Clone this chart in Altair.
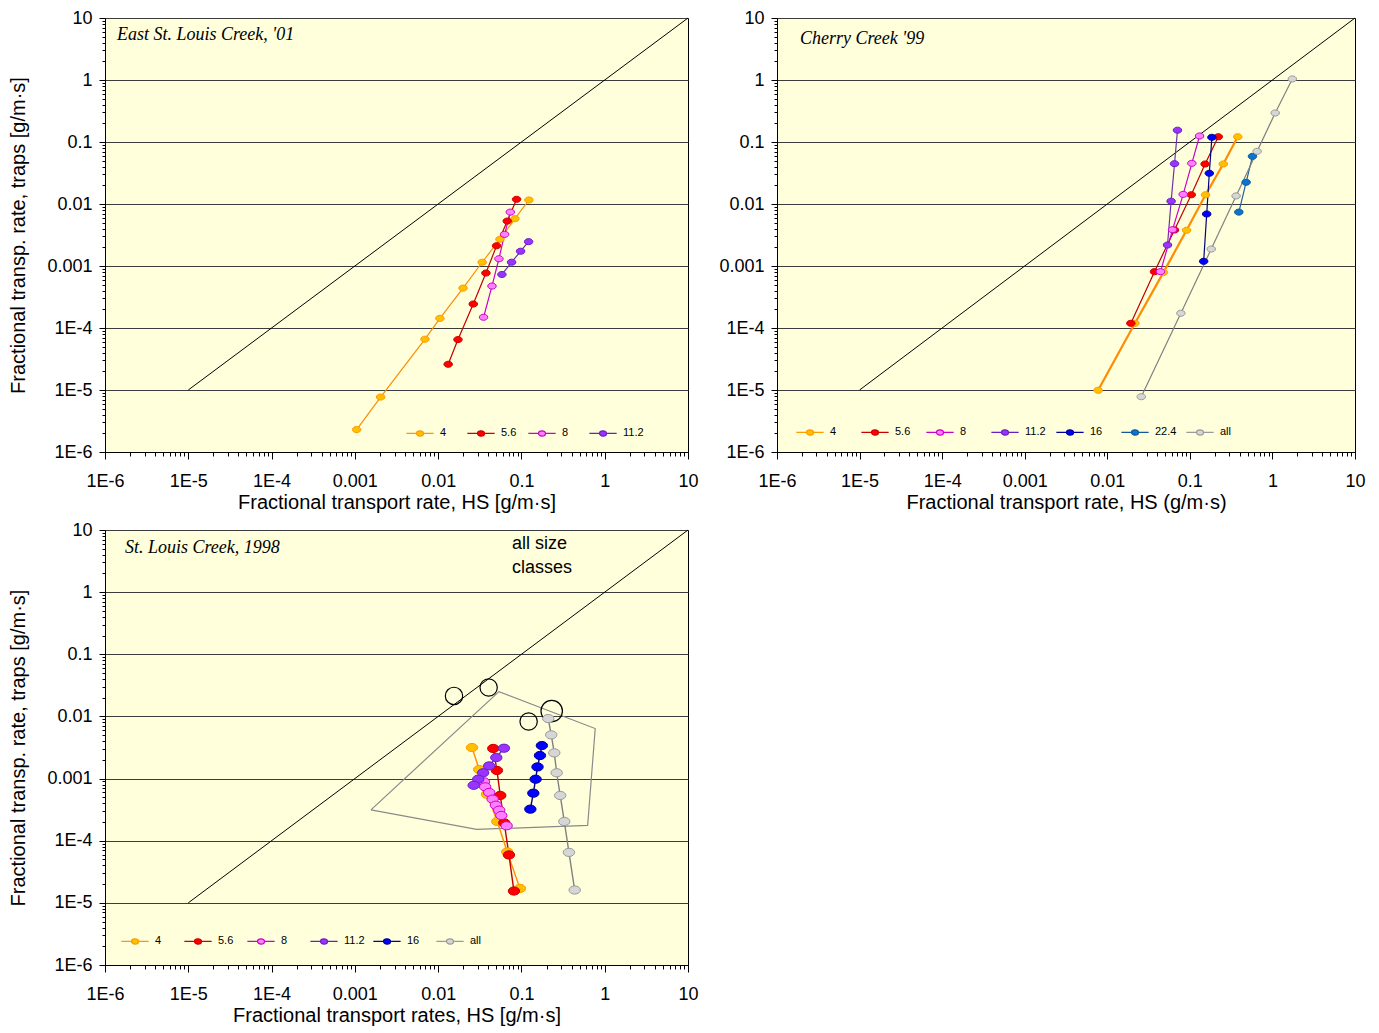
import altair as alt
import pandas as pd

# ---------------- data ----------------
# Panel 1: East St. Louis Creek, '01
P1_X_4 = [0.00105, 0.00204, 0.00695, 0.0105, 0.0199, 0.0338, 0.0552, 0.0836, 0.123]
P1_Y_4 = [2.3e-6, 7.7e-6, 6.6e-5, 1.43e-4, 4.4e-4, 1.15e-3, 2.7e-3, 5.8e-3, 0.0116]
P1_X_56 = [0.0132, 0.0173, 0.0264, 0.0375, 0.0503, 0.0676, 0.0875]
P1_Y_56 = [2.6e-5, 6.5e-5, 2.44e-4, 7.7e-4, 2.12e-3, 5.3e-3, 0.0119]
P1_X_8 = [0.0351, 0.0443, 0.0537, 0.0628, 0.0735]
P1_Y_8 = [1.49e-4, 4.75e-4, 1.31e-3, 3.24e-3, 7.4e-3]
P1_X_112 = [0.0583, 0.0762, 0.0977, 0.122]
P1_Y_112 = [7.3e-4, 1.15e-3, 1.73e-3, 2.47e-3]

# Panel 2: Cherry Creek '99
P2_X_4 = [0.00774, 0.0216, 0.0479, 0.0912, 0.155, 0.254, 0.38]
P2_Y_4 = [9.9e-6, 1.19e-4, 7.9e-4, 3.77e-3, 0.0141, 0.0442, 0.1216]
P2_X_56 = [0.0193, 0.0373, 0.0651, 0.104, 0.153, 0.221]
P2_Y_56 = [1.19e-4, 8.1e-4, 3.81e-3, 0.0141, 0.0442, 0.1216]
P2_X_8 = [0.0441, 0.0617, 0.083, 0.1057, 0.131]
P2_Y_8 = [8.1e-4, 3.85e-3, 0.0143, 0.0453, 0.125]
P2_X_112 = [0.0536, 0.0593, 0.0652, 0.0708]
P2_Y_112 = [2.18e-3, 0.0111, 0.0447, 0.155]
P2_X_16 = [0.147, 0.16, 0.172, 0.185]
P2_Y_16 = [1.19e-3, 6.9e-3, 0.0313, 0.119]
P2_X_224 = [0.392, 0.48, 0.573]
P2_Y_224 = [7.4e-3, 0.0224, 0.0587]
P2_X_ALL = [0.0258, 0.0778, 0.1815, 0.363, 0.653, 1.08, 1.74]
P2_Y_ALL = [7.8e-6, 1.73e-4, 1.88e-3, 0.0135, 0.0708, 0.294, 1.04]

# Panel 3: St. Louis Creek, 1998
P3_X_4 = [0.0255, 0.0311, 0.0386, 0.0513, 0.0676, 0.0959]
P3_Y_4 = [3.16e-3, 1.4e-3, 5.6e-4, 2.04e-4, 6.6e-5, 1.71e-5]
P3_X_56 = [0.0459, 0.0508, 0.0557, 0.0622, 0.0708, 0.0813]
P3_Y_56 = [3.05e-3, 1.35e-3, 5.35e-4, 1.94e-4, 5.9e-5, 1.55e-5]
P3_X_8 = [0.0355, 0.0367, 0.041, 0.0451, 0.0494, 0.0541, 0.0573, 0.0664]
P3_Y_8 = [8.85e-4, 7.36e-4, 5.98e-4, 4.67e-4, 3.73e-4, 3.1e-4, 2.55e-4, 1.74e-4]
P3_X_112 = [0.0617, 0.0499, 0.041, 0.0347, 0.0303, 0.0267]
P3_Y_112 = [3.08e-3, 2.18e-3, 1.6e-3, 1.24e-3, 9.77e-4, 7.8e-4]
P3_X_16 = [0.176, 0.167, 0.156, 0.148, 0.139, 0.128]
P3_Y_16 = [3.4e-3, 2.35e-3, 1.54e-3, 9.77e-4, 5.82e-4, 3.22e-4]
P3_X_ALL = [0.21, 0.228, 0.248, 0.265, 0.292, 0.327, 0.372, 0.436]
P3_Y_ALL = [9.25e-3, 5.05e-3, 2.59e-3, 1.24e-3, 5.35e-4, 2.04e-4, 6.49e-5, 1.61e-5]
P3_POLY_X = [0.00156, 0.0537, 0.769, 0.624, 0.029]
P3_POLY_Y = [3.14e-4, 0.0251, 6.38e-3, 1.76e-4, 1.52e-4]
P3_CIRCLE_X = [0.0155, 0.0404, 0.122]
P3_CIRCLE_Y = [0.0214, 0.0292, 8.28e-3]
P3_BIG_CIRCLE_X = [0.231]
P3_BIG_CIRCLE_Y = [0.0122]

ONE_TO_ONE = [1e-5, 10]

DECADES = [1e-6, 1e-5, 1e-4, 1e-3, 1e-2, 1e-1, 1, 10]
MINORS = [k * d for d in DECADES[:-1] for k in range(2, 10)]

TITLE_1 = "East St. Louis Creek, '01"
TITLE_2 = "Cherry Creek '99"
TITLE_3 = "St. Louis Creek, 1998"
NOTE_3 = ["all size", "classes"]

# ---------------- styles ----------------
FILL = {"4": "#FFC000", "5.6": "#FF0000", "8": "#FF80FF", "11.2": "#9933FF",
        "16": "#0000FF", "22.4": "#0A74D0", "all": "#D6D6D6"}
PSTROKE = {"4": "#FF9900", "5.6": "#CC0000", "8": "#CC00CC", "11.2": "#6A1FC0",
           "16": "#00009A", "22.4": "#105A9A", "all": "#9A9A9A"}
LINE = {"4": "#FF8C00", "5.6": "#C00000", "8": "#CC00CC", "11.2": "#7030B0",
        "16": "#000080", "22.4": "#2060A0", "all": "#808080"}

ELLIPSE = "M -1 0 A 1 0.72 0 1 0 1 0 A 1 0.72 0 1 0 -1 0 Z"
LEG_PATH = ("M -1.95 0 L -0.5 0 M 0.5 0 L 1.95 0 "
            "M -0.5 0 A 0.5 0.38 0 1 0 0.5 0 A 0.5 0.38 0 1 0 -0.5 0 Z")
FONT = "Liberation Sans"
SERIF = "Liberation Serif"

LABEL_EXPR = ("datum.value >= 0.0009 ? format(datum.value, '~g') : "
              "'1E' + round(log(datum.value) / LN10)")


def frame(pairs):
    rows = []
    for s, xs, ys in pairs:
        for i, (x, y) in enumerate(zip(xs, ys)):
            rows.append({"x": x, "y": y, "s": s, "o": i})
    return pd.DataFrame(rows)


def panel(pairs, width, height, xtitle, ytitle, title, title_pos,
          leg_xy, col_pad, psize, lwidth, thick=None, extras=()):
    xs = alt.Scale(type="log", domain=[1e-6, 10], nice=False)
    ys = alt.Scale(type="log", domain=[1e-6, 10], nice=False)
    dom = [p[0] for p in pairs]
    rdom = dom[::-1]
    df = frame(pairs)

    x_major = alt.Axis(values=DECADES, labelExpr=LABEL_EXPR, grid=False, tickSize=7,
                       labelPadding=13, labelFlush=False, title=xtitle, titlePadding=2,
                       orient="bottom")
    y_major = alt.Axis(values=DECADES, labelExpr=LABEL_EXPR, grid=True, gridColor="#3C3C3C",
                       gridWidth=1, tickSize=6, labelPadding=7, title=ytitle,
                       titlePadding=18, orient="left")
    x_minor = alt.Axis(values=MINORS, labels=False, grid=False, tickSize=4, domain=False,
                       title=None, orient="bottom")
    y_minor = alt.Axis(values=MINORS, labels=False, grid=False, tickSize=3, domain=False,
                       title=None, orient="left")

    one = alt.Chart(pd.DataFrame({"x": ONE_TO_ONE, "y": ONE_TO_ONE})).mark_line(
        color="black", strokeWidth=1).encode(
        x=alt.X("x:Q", scale=xs, axis=x_minor),
        y=alt.Y("y:Q", scale=ys, axis=y_minor))

    if thick is not None:
        sw = alt.condition(alt.datum.s == thick, alt.value(2.2), alt.value(lwidth))
    else:
        sw = alt.value(lwidth)
    lines = alt.Chart(df).mark_line().encode(
        x=alt.X("x:Q", scale=xs, axis=x_major),
        y=alt.Y("y:Q", scale=ys, axis=y_major),
        color=alt.Color("s:N", scale=alt.Scale(domain=rdom, range=[LINE[s] for s in rdom]),
                        legend=None),
        strokeWidth=sw,
        order="o:Q")

    leg = alt.Legend(title=None, orient="none", legendX=leg_xy[0], legendY=leg_xy[1],
                     direction="horizontal", columns=len(dom), symbolType=LEG_PATH,
                     symbolSize=196, symbolStrokeWidth=1.2, labelFontSize=11,
                     labelFont=FONT, labelColor="black", labelOffset=12,
                     columnPadding=col_pad, gridAlign="all", padding=0)
    points = alt.Chart(df).mark_point(shape=ELLIPSE, filled=True, opacity=1,
                                      strokeWidth=1, size=psize).encode(
        x=alt.X("x:Q", scale=xs, axis=None),
        y=alt.Y("y:Q", scale=ys, axis=None),
        fill=alt.Fill("s:N", scale=alt.Scale(domain=dom, range=[FILL[s] for s in dom]),
                      legend=leg),
        stroke=alt.Stroke("s:N", scale=alt.Scale(domain=dom, range=[PSTROKE[s] for s in dom]),
                          legend=leg))

    ttl = alt.Chart(pd.DataFrame({"t": [title]})).mark_text(
        align="left", baseline="middle", font=SERIF, fontStyle="italic",
        fontSize=18, color="black").encode(
        text="t:N", x=alt.value(title_pos[0]), y=alt.value(title_pos[1]))

    layers = [one]
    for e in extras:
        layers.append(e(xs, ys))
    layers += [lines, points, ttl]
    return alt.layer(*layers).resolve_axis(x="independent", y="independent").properties(
        width=width, height=height)


def polygon(xs, ys):
    px = P3_POLY_X + P3_POLY_X[:1]
    py = P3_POLY_Y + P3_POLY_Y[:1]
    d = pd.DataFrame({"x": px, "y": py, "o": list(range(len(px)))})
    return alt.Chart(d).mark_line(color="#8A8A8A", strokeWidth=1.2).encode(
        x=alt.X("x:Q", scale=xs, axis=None), y=alt.Y("y:Q", scale=ys, axis=None),
        order="o:Q")


def circles(xs, ys):
    d = pd.DataFrame({"x": P3_CIRCLE_X, "y": P3_CIRCLE_Y})
    return alt.Chart(d).mark_point(shape="circle", filled=False, color="black",
                                   strokeWidth=1.2, size=300, opacity=1).encode(
        x=alt.X("x:Q", scale=xs, axis=None), y=alt.Y("y:Q", scale=ys, axis=None))


def big_circle(xs, ys):
    d = pd.DataFrame({"x": P3_BIG_CIRCLE_X, "y": P3_BIG_CIRCLE_Y})
    return alt.Chart(d).mark_point(shape="circle", filled=False, color="black",
                                   strokeWidth=1.2, size=460, opacity=1).encode(
        x=alt.X("x:Q", scale=xs, axis=None), y=alt.Y("y:Q", scale=ys, axis=None))


def note(xs, ys):
    return alt.Chart(pd.DataFrame({"t": [NOTE_3]})).mark_text(
        align="left", baseline="top", font=FONT, fontSize=18, color="black",
        lineHeight=24).encode(text="t", x=alt.value(407), y=alt.value(5))


YT = "Fractional transp. rate, traps [g/m\u00b7s]"

p1 = panel([("4", P1_X_4, P1_Y_4), ("5.6", P1_X_56, P1_Y_56),
            ("8", P1_X_8, P1_Y_8), ("11.2", P1_X_112, P1_Y_112)],
           583, 434, "Fractional transport rate, HS [g/m\u00b7s]", YT, TITLE_1, (12, 17),
           (307, 407), 3, 72, 1.2)

p2 = panel([("4", P2_X_4, P2_Y_4), ("5.6", P2_X_56, P2_Y_56), ("8", P2_X_8, P2_Y_8),
            ("11.2", P2_X_112, P2_Y_112), ("16", P2_X_16, P2_Y_16),
            ("22.4", P2_X_224, P2_Y_224), ("all", P2_X_ALL, P2_Y_ALL)],
           578, 434, "Fractional transport rate, HS (g/m\u00b7s)", None, TITLE_2, (23, 21),
           (25, 406), 6, 72, 1.2, thick="4")

p3 = panel([("4", P3_X_4, P3_Y_4), ("5.6", P3_X_56, P3_Y_56), ("8", P3_X_8, P3_Y_8),
            ("11.2", P3_X_112, P3_Y_112), ("16", P3_X_16, P3_Y_16),
            ("all", P3_X_ALL, P3_Y_ALL)],
           583, 435, "Fractional transport rates, HS [g/m\u00b7s]", YT, TITLE_3, (20, 18),
           (22, 403), 5, 130, 1.4, extras=(polygon, circles, big_circle, note))

top = alt.hconcat(p1, p2, spacing=19).resolve_scale(
    color="independent", fill="independent", stroke="independent").resolve_legend(
    color="independent", fill="independent", stroke="independent")

chart = alt.vconcat(top, p3, spacing=7).resolve_scale(
    color="independent", fill="independent", stroke="independent").resolve_legend(
    color="independent", fill="independent", stroke="independent").properties(
    padding={"left": 0, "top": 0, "right": 0, "bottom": 0}, background="white"
).configure_view(fill="#FFFFDC", stroke="black", strokeWidth=1).configure_axis(
    labelFont=FONT, titleFont=FONT, labelFontSize=18, titleFontSize=20,
    labelColor="black", titleColor="black", domainColor="black", tickColor="black",
    titleFontWeight="normal", domainWidth=1, tickWidth=1)

chart.save("out.html", embed_options={"renderer": "svg", "actions": False})
